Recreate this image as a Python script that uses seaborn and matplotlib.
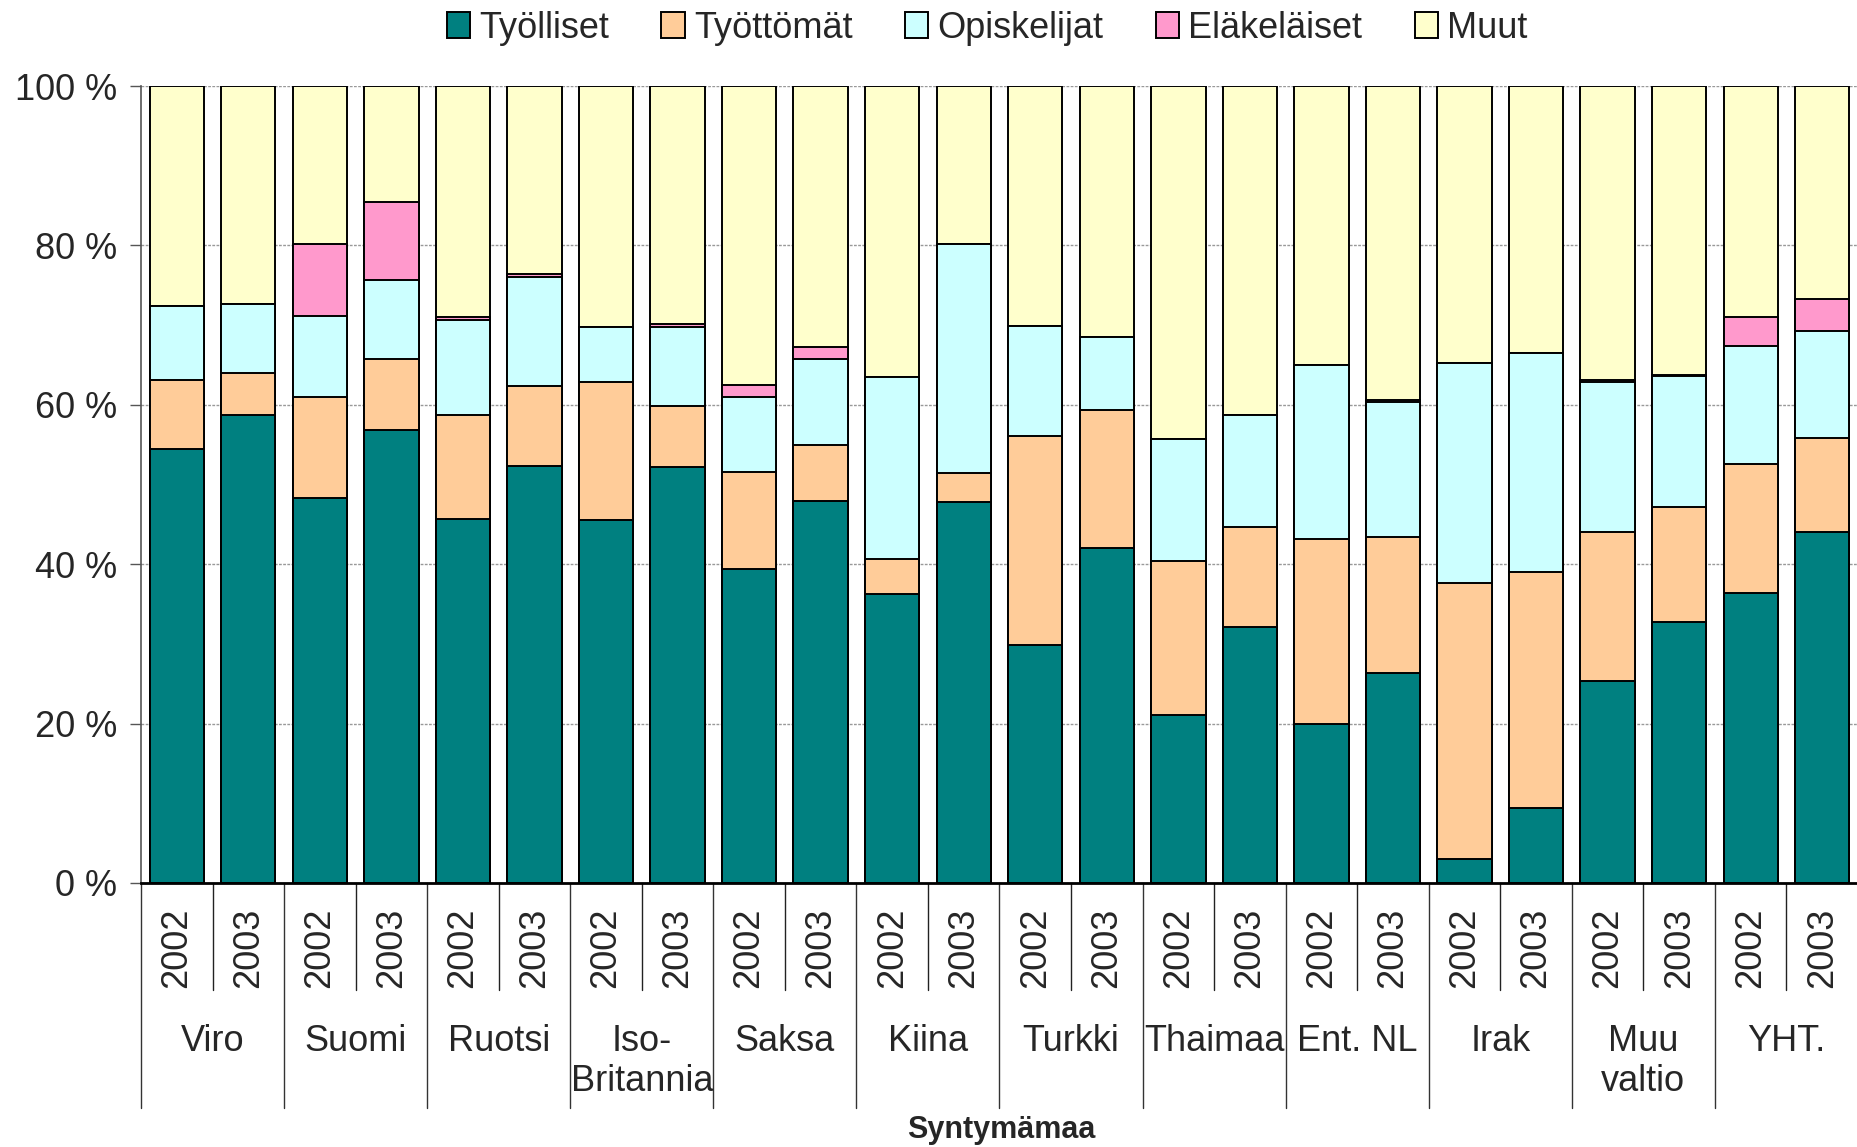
import numpy as np
import pandas as pd
import matplotlib
matplotlib.use("Agg")
import matplotlib.pyplot as plt
import matplotlib.transforms as mtransforms
from matplotlib.patches import Patch
import seaborn as sns

countries = ["Viro", "Suomi", "Ruotsi", "Iso-\nBritannia", "Saksa", "Kiina",
             "Turkki", "Thaimaa", "Ent. NL", "Irak", "Muu\nvaltio", "YHT."]
years = ["2002", "2003"]

# osuudet (%) jokaiselle pylväälle: maa x vuosi
tyolliset = [54.5, 58.7, 48.3, 56.9, 45.7, 52.3, 45.5, 52.2, 39.4, 47.9, 36.2, 47.8,
             29.8, 42.0, 21.1, 32.1, 19.9, 26.4, 3.0, 9.4, 25.3, 32.7, 36.4, 44.1]
tyottomat = [8.6, 5.3, 12.7, 8.8, 13.0, 10.0, 17.4, 7.6, 12.2, 7.1, 4.4, 3.6,
             26.3, 17.3, 19.3, 12.6, 23.3, 17.0, 34.7, 29.6, 18.8, 14.5, 16.2, 11.7]
opiskelijat = [9.3, 8.7, 10.2, 9.9, 11.9, 13.7, 6.8, 10.0, 9.4, 10.7, 22.9, 28.8,
               13.8, 9.2, 15.3, 14.0, 21.8, 17.0, 27.5, 27.5, 18.8, 16.4, 14.8, 13.5]
elakelaiset = [0.0, 0.0, 9.0, 9.8, 0.4, 0.4, 0.0, 0.3, 1.5, 1.5, 0.0, 0.0,
               0.0, 0.0, 0.0, 0.0, 0.0, 0.2, 0.0, 0.0, 0.2, 0.2, 3.6, 4.0]
muut = [27.6, 27.3, 19.8, 14.6, 29.0, 23.6, 30.3, 29.9, 37.5, 32.8, 36.5, 19.8,
        30.1, 31.5, 44.3, 41.3, 35.0, 39.4, 34.8, 33.5, 36.9, 36.2, 29.0, 26.7]

series = ["Työlliset", "Työttömät", "Opiskelijat", "Eläkeläiset", "Muut"]
colors = ["#008080", "#FFCC99", "#CCFFFF", "#FF99CC", "#FFFFCC"]

keys = [f"{c}|{y}" for c in countries for y in years]
df = pd.DataFrame({"key": keys, "Työlliset": tyolliset, "Työttömät": tyottomat,
                   "Opiskelijat": opiskelijat, "Eläkeläiset": elakelaiset, "Muut": muut})
cum = df[series].cumsum(axis=1)

sns.set_style("white")
plt.rcParams["font.family"] = ["Liberation Sans", "DejaVu Sans"]

W, H = 1858, 1147
fig = plt.figure(figsize=(W / 100, H / 100), dpi=100)
ax_left, ax_top, ax_bottom = 141, 86, 883
ax = fig.add_axes([ax_left / W, 1 - ax_bottom / H, (W - ax_left) / W, (ax_bottom - ax_top) / H])

# pinotut pylväät: piirretään kumulatiiviset korkeudet ylhäältä alas
for name, col in reversed(list(zip(series, colors))):
    sns.barplot(x=df["key"], y=cum[name], order=keys, color=col, saturation=1,
                width=0.76, edgecolor="black", linewidth=1.4, errorbar=None, ax=ax)

ax.set_xlim(-0.5, len(keys) - 0.5)
ax.set_ylim(0, 100)
ax.set_yticks([0, 20, 40, 60, 80, 100])
ax.set_yticklabels([f"{v} %" for v in [0, 20, 40, 60, 80, 100]], fontsize=26)
ax.tick_params(axis="y", which="major", left=True, length=8, width=1, color="#555555", pad=9)
ax.set_xticks([])
ax.set_xlabel("")
ax.set_ylabel("")
ax.set_axisbelow(True)
ax.yaxis.grid(True, color="#999999", linewidth=1, linestyle=(0, (2, 1)))
for s in ["top", "right"]:
    ax.spines[s].set_visible(False)
ax.spines["left"].set_color("#555555")
ax.spines["left"].set_linewidth(1.2)
ax.spines["bottom"].set_color("black")
ax.spines["bottom"].set_linewidth(2)

# hierarkkinen x-akseli
trans = mtransforms.blended_transform_factory(ax.transData, ax.transAxes)
ax_h = ax_bottom - ax_top
short_y = -(990 - ax_bottom) / ax_h
long_y = -(1108 - ax_bottom) / ax_h
for i in range(len(countries)):
    xl = 2 * i - 0.5
    ax.plot([xl, xl], [0, long_y], transform=trans, color="#333333", lw=1, clip_on=False)
    ax.plot([xl + 1, xl + 1], [0, short_y], transform=trans, color="#222222", lw=1, clip_on=False)
for i, k in enumerate(keys):
    ax.text(i, -(908 - ax_bottom) / ax_h, k.split("|")[1], transform=trans, rotation=90,
            ha="center", va="top", fontsize=26)
for i, c in enumerate(countries):
    ax.text(2 * i + 0.5, -(1024 - ax_bottom) / ax_h, c, transform=trans, ha="center", va="top",
            fontsize=26, linespacing=1.2, multialignment="center")

fig.text(1001 / W, 1 - 1130 / H, "Syntymämaa", ha="center", va="center",
         fontsize=22, fontweight="bold")

handles = [Patch(facecolor=c, edgecolor="black", linewidth=1.4) for c in colors]
fig.legend(handles, series, loc="center", bbox_to_anchor=(987 / W, 1 - 28 / H), ncol=5,
           frameon=False, fontsize=26, handlelength=0.65, handleheight=0.75,
           handletextpad=0.25, columnspacing=1.45)

fig.savefig("out.png", dpi=100)
